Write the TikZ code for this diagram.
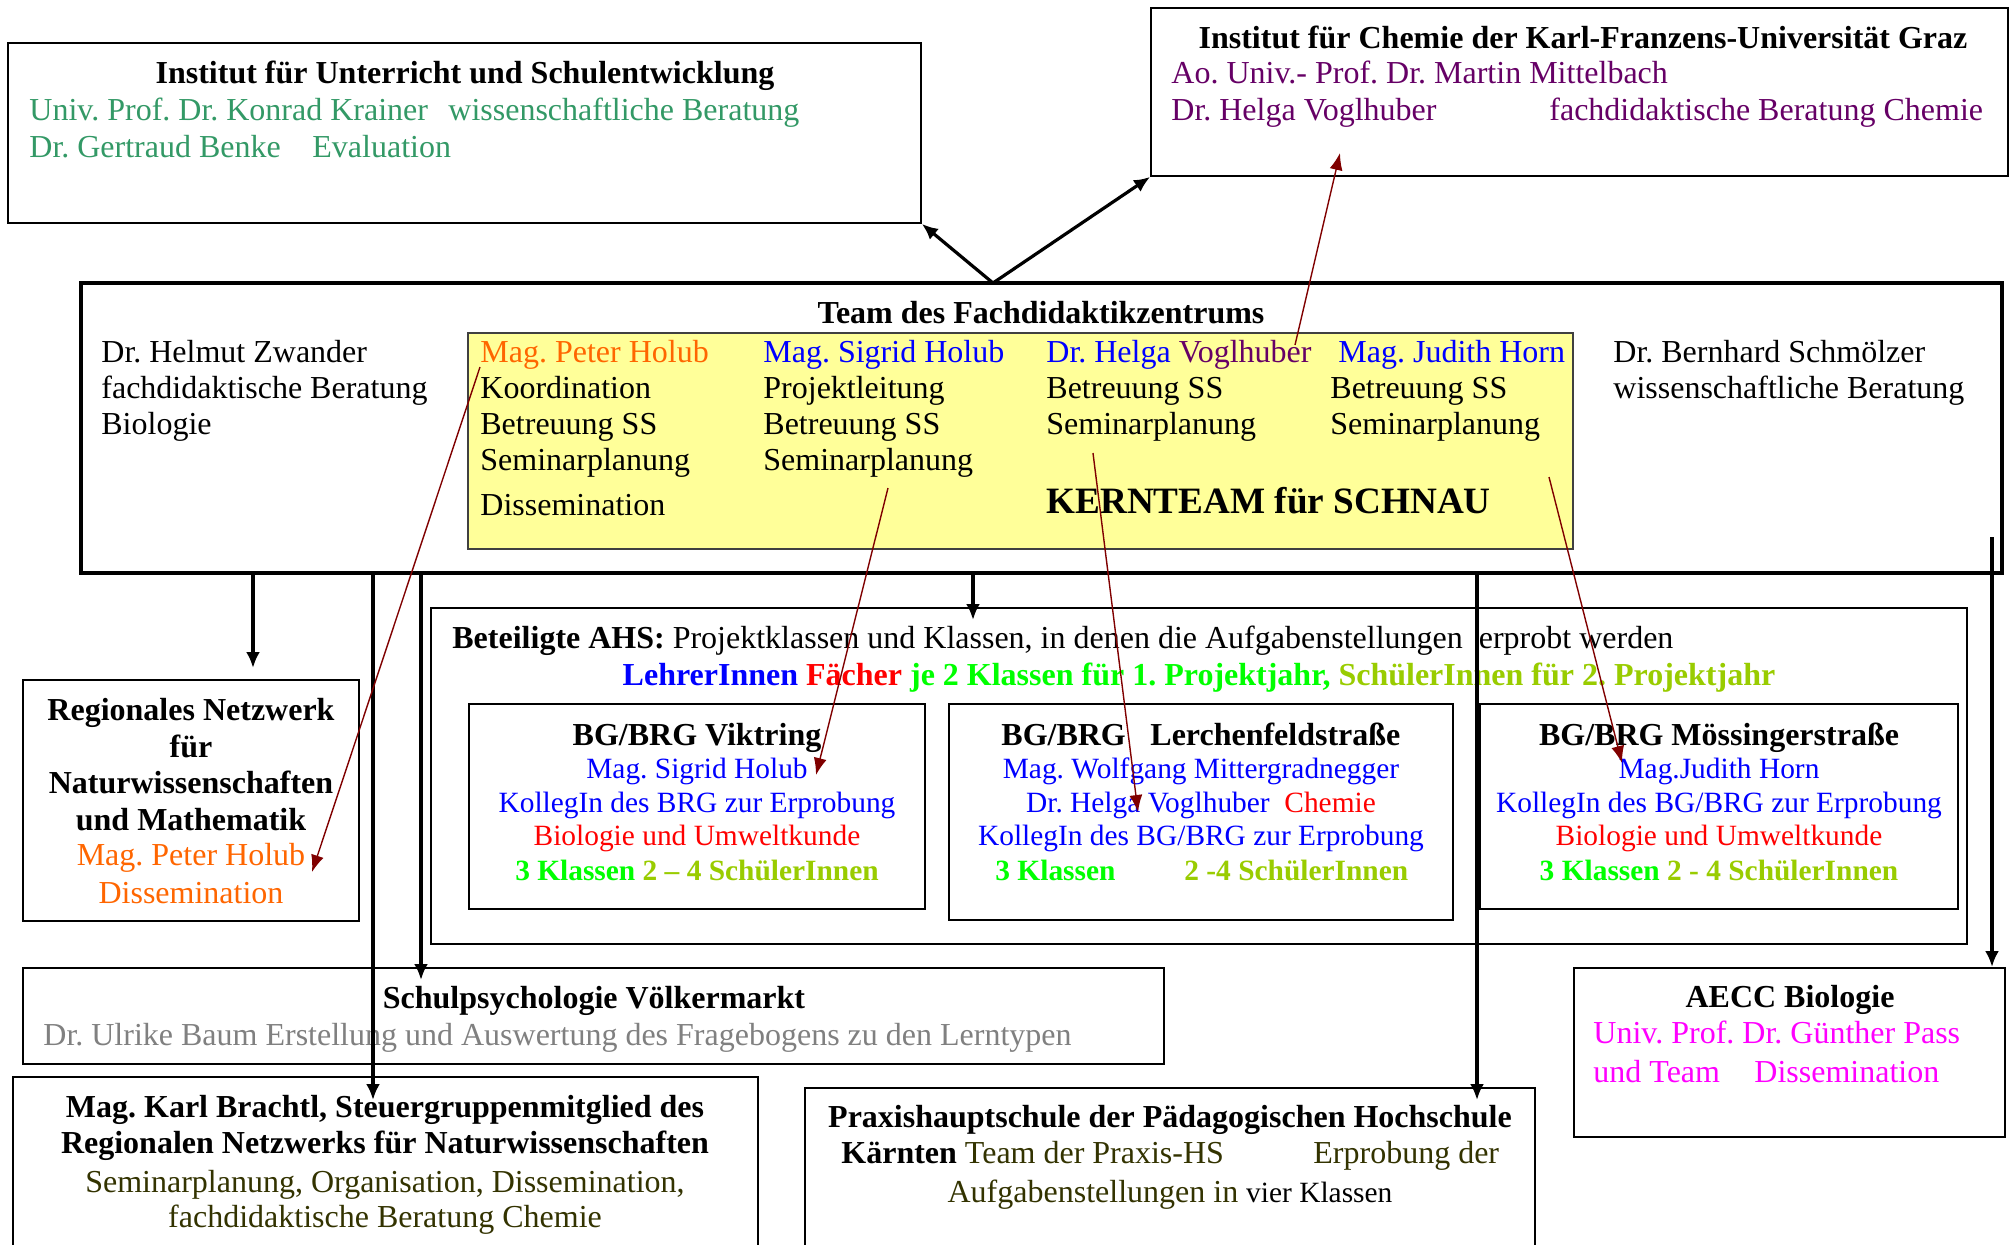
\documentclass[tikz,border=0pt]{standalone}
\usepackage{fontspec}
\setmainfont{Liberation Serif}
\usetikzlibrary{fit,arrows.meta}
\definecolor{instgreen}{HTML}{339966}
\definecolor{chempurple}{HTML}{660066}
\definecolor{porange}{HTML}{FF6600}
\definecolor{pblue}{HTML}{0000FF}
\definecolor{pred}{HTML}{FF0000}
\definecolor{bgreen}{HTML}{00FF00}
\definecolor{ygreen}{HTML}{99CC00}
\definecolor{pgray}{HTML}{808080}
\definecolor{olivethree}{HTML}{333300}
\definecolor{pmag}{HTML}{FF00FF}
\definecolor{arrred}{HTML}{800000}
\definecolor{kernyellow}{HTML}{FFFF99}
\newcommand\nsz{\fontsize{16}{18.5}\selectfont}
\newcommand\ssz{\fontsize{14.7}{17}\selectfont}
\frenchspacing
\tikzset{
  box/.style={draw, line width=0.9pt, inner sep=0pt},
  teambox/.style={draw, line width=1.8pt, inner sep=0pt},
  kernbox/.style={draw=black!75, fill=kernyellow, line width=0.9pt, inner sep=0pt},
  t/.style={anchor=base west, inner sep=0pt, font=\nsz},
  tc/.style={anchor=base, inner sep=0pt, font=\nsz},
  ts/.style={anchor=base, inner sep=0pt, font=\ssz},
  tb/.style={anchor=base, inner sep=0pt, font=\nsz\bfseries},
  arr/.style={line width=1.6pt, -{Latex[length=8pt,width=7pt]}},
  redarr/.style={draw=arrred, line width=0.7pt, -{Latex[length=8.5pt,width=6.5pt]}}
}
\begin{document}
\begin{tikzpicture}[x=0.5pt,y={(0pt,-0.5pt)}]
\useasboundingbox (0,0) rectangle (2010,1244);
\clip (0,0) rectangle (2010,1244);
\fill[white] (0,0) rectangle (2010,1244);

% boxes
\node[box, fit={(8,43) (921,223)}] (A) {};
\node[box, fit={(1151,8) (2008,176)}] (B) {};
\node[teambox, fit={(81,283) (2002,573)}] (C) {};
\node[kernbox, fit={(468,333) (1573,549)}] (D) {};
\node[box, fit={(431,608) (1967,944)}] (E) {};
\node[box, fit={(469,704) (925,909)}] (F1) {};
\node[box, fit={(949,704) (1453,920)}] (F2) {};
\node[box, fit={(1480,704) (1958,909)}] (F3) {};
\node[box, fit={(23,680) (359,921)}] (G) {};
\node[box, fit={(23,968) (1164,1064)}] (H) {};
\node[box, fit={(13,1077) (758,1270)}] (I) {};
\node[box, fit={(805,1088) (1535,1270)}] (J) {};
\node[box, fit={(1574,968) (2005,1137)}] (K) {};

% A
\node[tb] (a1) at (465,83) {Institut für Unterricht und Schulentwicklung};
\node[t, instgreen] (a2) at (29,120) {Univ. Prof. Dr. Konrad Krainer};
\node[t, instgreen] (a3) at (448,120) {wissenschaftliche Beratung};
\node[t, instgreen] (a4) at (29,157) {Dr. Gertraud Benke};
\node[t, instgreen] (a5) at (312,157) {Evaluation};

% B
\node[tb] (b1) at (1583,48) {Institut für Chemie der Karl-Franzens-Universität Graz};
\node[t, chempurple] (b2) at (1171,83) {Ao. Univ.- Prof. Dr. Martin Mittelbach};
\node[t, chempurple] (b3) at (1171,120) {Dr. Helga Voglhuber};
\node[t, chempurple] (b4) at (1549,120) {fachdidaktische Beratung Chemie};

% C
\node[tb] (c0) at (1041,323) {Team des Fachdidaktikzentrums};
\node[t] (cl1) at (101,362) {Dr. Helmut Zwander};
\node[t] (cl2) at (101,398) {fachdidaktische Beratung};
\node[t] (cl3) at (101,434) {Biologie};
\node[t] (cr1) at (1613,362) {Dr. Bernhard Schmölzer};
\node[t] (cr2) at (1613,398) {wissenschaftliche Beratung};

% D (Kernteam)
\node[t, porange] (d11) at (480,362) {Mag. Peter Holub};
\node[t] (d12) at (480,398) {Koordination};
\node[t] (d13) at (480,434) {Betreuung SS};
\node[t] (d14) at (480,470) {Seminarplanung};
\node[t] (d15) at (480,515) {Dissemination};
\node[t, pblue] (d21) at (763,362) {Mag. Sigrid Holub};
\node[t] (d22) at (763,398) {Projektleitung};
\node[t] (d23) at (763,434) {Betreuung SS};
\node[t] (d24) at (763,470) {Seminarplanung};
\node[t, pblue] (d31) at (1046,362) {Dr. Helga \textcolor{chempurple}{Voglhuber}};
\node[t] (d32) at (1046,398) {Betreuung SS};
\node[t] (d33) at (1046,434) {Seminarplanung};
\node[t, pblue] (d41) at (1338,362) {Mag. Judith Horn};
\node[t] (d42) at (1330,398) {Betreuung SS};
\node[t] (d43) at (1330,434) {Seminarplanung};
\node[t, font=\fontsize{18.6}{21}\selectfont\bfseries] (d5) at (1046,513) {KERNTEAM für SCHNAU};

% E
\node[t] (e1) at (452,648) {\textbf{Beteiligte AHS:} Projektklassen und Klassen, in denen die Aufgabenstellungen\ \ erprobt werden};
\node[tb] (e2) at (1199,685) {\textcolor{pblue}{LehrerInnen} \textcolor{pred}{Fächer} \textcolor{bgreen}{je 2 Klassen für 1. Projektjahr,} \textcolor{ygreen}{SchülerInnen für 2. Projektjahr}};

% F1
\node[tb] (f11) at (697,745) {BG/BRG Viktring};
\node[ts, pblue] (f12) at (697,778) {Mag. Sigrid Holub};
\node[ts, pblue] (f13) at (697,812) {KollegIn des BRG zur Erprobung};
\node[ts, pred] (f14) at (697,845) {Biologie und Umweltkunde};
\node[ts, font=\ssz\bfseries] (f15) at (697,880) {\textcolor{bgreen}{3 Klassen} \textcolor{ygreen}{2 – 4 SchülerInnen}};

% F2
\node[t, font=\nsz\bfseries] (f21) at (1001,745) {BG/BRG};
\node[t, font=\nsz\bfseries] (f22) at (1150,745) {Lerchenfeldstraße};
\node[ts, pblue] (f23) at (1201,778) {Mag. Wolfgang Mittergradnegger};
\node[ts, pblue] (f24) at (1201,812) {Dr. Helga Voglhuber\ \ \textcolor{pred}{Chemie}};
\node[ts, pblue] (f25) at (1201,845) {KollegIn des BG/BRG zur Erprobung};
\node[t, font=\ssz\bfseries, bgreen] (f26) at (995,880) {3 Klassen};
\node[t, font=\ssz\bfseries, ygreen] (f27) at (1184,880) {2 -4 SchülerInnen};

% F3
\node[tb] (f31) at (1719,745) {BG/BRG Mössingerstraße};
\node[ts, pblue] (f32) at (1719,778) {Mag.Judith Horn};
\node[ts, pblue] (f33) at (1719,812) {KollegIn des BG/BRG zur Erprobung};
\node[ts, pred] (f34) at (1719,845) {Biologie und Umweltkunde};
\node[ts, font=\ssz\bfseries] (f35) at (1719,880) {\textcolor{bgreen}{3 Klassen} \textcolor{ygreen}{2 - 4 SchülerInnen}};

% G
\node[tb] (g1) at (191,720) {Regionales Netzwerk};
\node[tb] (g2) at (191,757) {für};
\node[tb] (g3) at (191,793) {Naturwissenschaften};
\node[tb] (g4) at (191,830) {und Mathematik};
\node[tc, porange] (g5) at (191,865) {Mag. Peter Holub};
\node[tc, porange] (g6) at (191,903) {Dissemination};

% H
\node[tb] (h1) at (594,1008) {Schulpsychologie Völkermarkt};
\node[t, pgray] (h2) at (43,1045) {Dr. Ulrike Baum Erstellung und Auswertung des Fragebogens zu den Lerntypen};

% I
\node[tb] (i1) at (385,1117) {Mag. Karl Brachtl, Steuergruppenmitglied des};
\node[tb] (i2) at (385,1153) {Regionalen Netzwerks für Naturwissenschaften};
\node[tc, olivethree] (i3) at (385,1192) {Seminarplanung, Organisation, Dissemination,};
\node[tc, olivethree] (i4) at (385,1227) {fachdidaktische Beratung Chemie};

% J
\node[tb] (j1) at (1170,1127) {Praxishauptschule der Pädagogischen Hochschule};
\node[t] (j2) at (841,1163) {\textbf{Kärnten} \textcolor{olivethree}{Team der Praxis-HS}};
\node[t, olivethree] (j3) at (1313,1163) {Erprobung der};
\node[tc] (j4) at (1170,1202) {\textcolor{olivethree}{Aufgabenstellungen in} {\ssz vier Klassen}};

% K
\node[tb] (k1) at (1790,1007) {AECC Biologie};
\node[t, pmag] (k2) at (1593,1043) {Univ. Prof. Dr. Günther Pass};
\node[t, pmag] (k3) at (1593,1082) {und Team};
\node[t, pmag] (k4) at (1754,1082) {Dissemination};

% black connectors
\coordinate (apex) at (993,283);
\draw[arr] (apex) -- (A.south east);
\draw[arr] (apex) -- (B.south west);
\coordinate (v1s) at (253,573);  \coordinate (v1e) at (253,668);
\coordinate (v2s) at (373,573);  \coordinate (v2e) at (373,1100);
\coordinate (v3s) at (421,573);  \coordinate (v3e) at (421,980);
\coordinate (v4s) at (973,573);  \coordinate (v4e) at (973,620);
\coordinate (v5s) at (1477,573); \coordinate (v5e) at (1477,1100);
\coordinate (v6s) at (1992,537); \coordinate (v6e) at (1992,967);
\draw[arr] (v1s) -- (v1e);
\draw[arr] (v2s) -- (v2e);
\draw[arr] (v3s) -- (v3e);
\draw[arr] (v4s) -- (v4e);
\draw[arr] (v5s) -- (v5e);
\draw[arr] (v6s) -- (v6e);

% red arrows
\coordinate (r1s) at (1295,345); \coordinate (r1e) at (1340,153);
\coordinate (r2s) at (480,367);  \coordinate (r2e) at (312,872);
\coordinate (r3s) at (888,488);  \coordinate (r3e) at (816,775);
\coordinate (r4s) at (1093,453); \coordinate (r4e) at (1138,812);
\coordinate (r5s) at (1549,477); \coordinate (r5e) at (1622,763);
\draw[redarr] (r1s) -- (r1e);
\draw[redarr] (r2s) -- (r2e);
\draw[redarr] (r3s) -- (r3e);
\draw[redarr] (r4s) -- (r4e);
\draw[redarr] (r5s) -- (r5e);
\end{tikzpicture}
\end{document}
